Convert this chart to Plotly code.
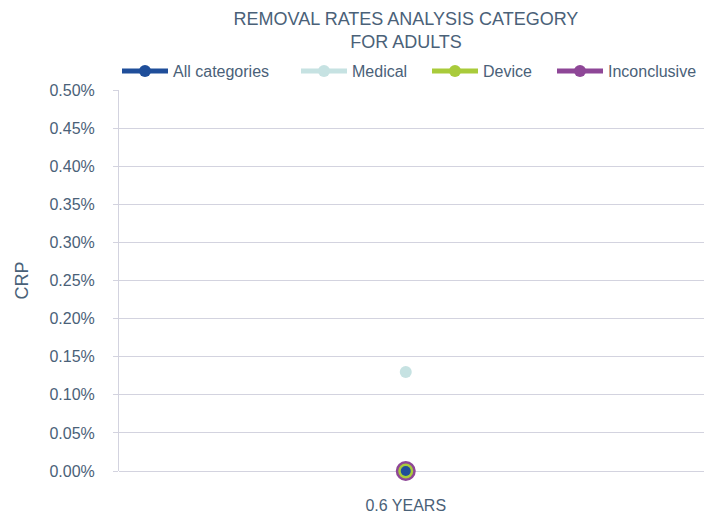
import plotly.graph_objects as go

categories = ["0.6 YEARS"]
series_names = ["All categories", "Medical", "Device", "Inconclusive"]
series_values = {
    "All categories": [0.0],
    "Medical": [0.13],
    "Device": [0.0],
    "Inconclusive": [0.0],
}
series_colors = {
    "All categories": "#1f4e9a",
    "Medical": "#c6e2e2",
    "Device": "#a9cb3b",
    "Inconclusive": "#8e4797",
}
marker_sizes = {
    "All categories": 10,
    "Medical": 12,
    "Device": 15,
    "Inconclusive": 20,
}
y_ticks = [0.0, 0.05, 0.10, 0.15, 0.20, 0.25, 0.30, 0.35, 0.40, 0.45, 0.50]

text_color = "#4a6178"
grid_color = "#d3d3df"
font_family = "Liberation Sans, Arial, sans-serif"

W, H = 704, 517

# one legend per series so each entry can sit where the reference shows it
legend_ids = {"All categories": "legend", "Medical": "legend2",
              "Device": "legend3", "Inconclusive": "legend4"}
legend_x = {"All categories": 117, "Medical": 296, "Device": 427, "Inconclusive": 552}

fig = go.Figure()
draw_order = ["Inconclusive", "Device", "Medical", "All categories"]
for name in draw_order:
    fig.add_trace(go.Scatter(
        x=categories,
        y=series_values[name],
        name=name,
        mode="lines+markers",
        line=dict(color=series_colors[name], width=4),
        marker=dict(color=series_colors[name], size=marker_sizes[name]),
        legend=legend_ids[name],
        cliponaxis=False,
    ))

legend_common = dict(
    orientation="h", xref="container", yref="container",
    xanchor="left", y=1 - 71 / H, yanchor="middle",
    font=dict(size=16, color=text_color), itemsizing="constant",
    itemwidth=46,
    bgcolor="rgba(0,0,0,0)",
)
layout_legends = {}
for name in series_names:
    layout_legends[legend_ids[name]] = dict(legend_common, x=legend_x[name] / W)

fig.update_layout(
    width=W, height=H,
    margin=dict(l=119, r=0, t=90, b=46, autoexpand=False),
    paper_bgcolor="white", plot_bgcolor="white",
    font=dict(family=font_family, color=text_color, size=16),
    title=dict(
        text="REMOVAL RATES ANALYSIS CATEGORY<br>FOR ADULTS",
        xref="container", yref="container",
        x=406 / W, xanchor="center", y=1 - 25 / H, yanchor="middle",
        font=dict(size=18, color=text_color),
    ),
    showlegend=True,
    **layout_legends,
)

fig.update_xaxes(
    type="category",
    range=[-1, 1.04],
    showgrid=False,
    showline=False,
    ticks="",
    ticklabelstandoff=23,
    tickfont=dict(size=16, color=text_color),
    zeroline=False,
)
fig.update_yaxes(
    range=[0, 0.5],
    tickvals=y_ticks,
    ticktext=[f"{v:.2f}%" for v in y_ticks],
    showgrid=True, gridcolor=grid_color, gridwidth=1,
    showline=True, linecolor=grid_color, linewidth=1,
    ticks="outside", ticklen=5, tickcolor=grid_color,
    ticklabelstandoff=15,
    tickfont=dict(size=16, color=text_color),
    zeroline=True, zerolinecolor=grid_color, zerolinewidth=1,
    title=dict(text="CRP", font=dict(size=18, color=text_color), standoff=16),
)

fig.write_html("out.html", config={"displayModeBar": False},
               post_script="document.body.style.margin='0px';")
